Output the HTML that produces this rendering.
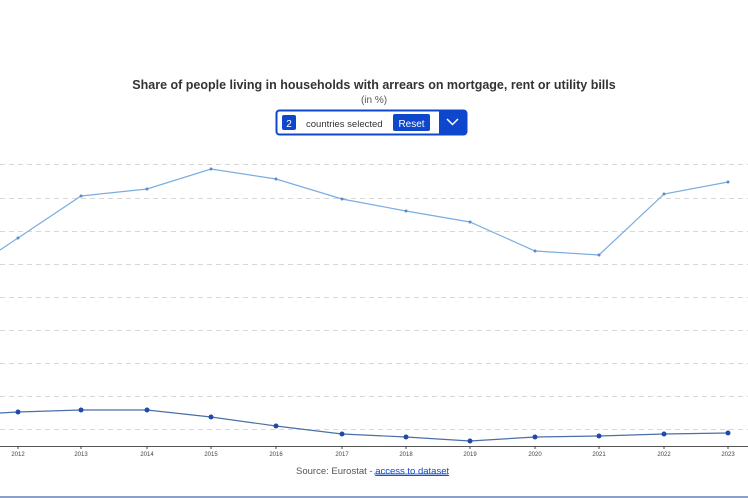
<!DOCTYPE html>
<html><head><meta charset="utf-8"><style>
body{margin:0;width:748px;height:498px;background:#fff;overflow:hidden;font-family:"Liberation Sans",Arial,sans-serif;position:relative}
</style></head><body>
<svg width="748" height="498" style="position:absolute;left:0;top:0">
<text x="374" y="89" text-anchor="middle" font-size="12.5" font-weight="bold" fill="#333">Share of people living in households with arrears on mortgage, rent or utility bills</text>
<text x="374" y="103" text-anchor="middle" font-size="10" fill="#555">(in %)</text>
<rect x="276.5" y="110.5" width="190" height="24" rx="3" fill="#fff" stroke="#0e47cb" stroke-width="2"/>
<rect x="282" y="115" width="14" height="15" rx="2" fill="#0e47cb"/>
<text x="289" y="127" text-anchor="middle" font-size="10" fill="#fff">2</text>
<text x="306" y="127" font-size="9.5" fill="#333">countries selected</text>
<rect x="393" y="114" width="37" height="17" rx="2" fill="#0e47cb"/>
<text x="411.5" y="127" text-anchor="middle" font-size="10" fill="#fff">Reset</text>
<rect x="439" y="111" width="27" height="23" fill="#0e47cb"/>
<polyline points="447,119 452.5,124.5 458,119" fill="none" stroke="#fff" stroke-width="1.5"/>
<g stroke="#d8d8d8" stroke-dasharray="5,4" stroke-width="1">
<line x1="0" y1="164.5" x2="748" y2="164.5"/><line x1="0" y1="198.5" x2="748" y2="198.5"/>
<line x1="0" y1="231.5" x2="748" y2="231.5"/><line x1="0" y1="264.5" x2="748" y2="264.5"/>
<line x1="0" y1="297.5" x2="748" y2="297.5"/><line x1="0" y1="330.5" x2="748" y2="330.5"/>
<line x1="0" y1="363.5" x2="748" y2="363.5"/><line x1="0" y1="396.5" x2="748" y2="396.5"/>
<line x1="0" y1="429.5" x2="748" y2="429.5"/>
</g>
<line x1="0" y1="446.5" x2="748" y2="446.5" stroke="#555" stroke-width="1"/>
<g font-size="6" fill="#444" text-anchor="middle">
<text x="18" y="456">2012</text><text x="81" y="456">2013</text><text x="147" y="456">2014</text><text x="211" y="456">2015</text><text x="276" y="456">2016</text><text x="342" y="456">2017</text><text x="406" y="456">2018</text><text x="470" y="456">2019</text><text x="535" y="456">2020</text><text x="599" y="456">2021</text><text x="664" y="456">2022</text><text x="728" y="456">2023</text>
</g>
<g stroke="#444" stroke-width="1"><line x1="18" y1="446" x2="18" y2="449"/><line x1="81" y1="446" x2="81" y2="449"/><line x1="147" y1="446" x2="147" y2="449"/><line x1="211" y1="446" x2="211" y2="449"/><line x1="276" y1="446" x2="276" y2="449"/><line x1="342" y1="446" x2="342" y2="449"/><line x1="406" y1="446" x2="406" y2="449"/><line x1="470" y1="446" x2="470" y2="449"/><line x1="535" y1="446" x2="535" y2="449"/><line x1="599" y1="446" x2="599" y2="449"/><line x1="664" y1="446" x2="664" y2="449"/><line x1="728" y1="446" x2="728" y2="449"/></g>
<polyline fill="none" stroke="#7aaee0" stroke-width="1.2" points="0,250 18,238 81,196 147,189 211,169 276,179 342,199 406,211 470,222 535,251 599,255 664,194 728,182"/>
<g fill="#5a8ccc"><circle cx="18" cy="238" r="1.5"/><circle cx="81" cy="196" r="1.5"/><circle cx="147" cy="189" r="1.5"/><circle cx="211" cy="169" r="1.5"/><circle cx="276" cy="179" r="1.5"/><circle cx="342" cy="199" r="1.5"/><circle cx="406" cy="211" r="1.5"/><circle cx="470" cy="222" r="1.5"/><circle cx="535" cy="251" r="1.5"/><circle cx="599" cy="255" r="1.5"/><circle cx="664" cy="194" r="1.5"/><circle cx="728" cy="182" r="1.5"/></g>
<polyline fill="none" stroke="#4a6fa8" stroke-width="1.2" points="0,413 18,412 81,410 147,410 211,417 276,426 342,434 406,437 470,441 535,437 599,436 664,434 728,433"/>
<g fill="#1f4aa8"><circle cx="18" cy="412" r="2.5"/><circle cx="81" cy="410" r="2.5"/><circle cx="147" cy="410" r="2.5"/><circle cx="211" cy="417" r="2.5"/><circle cx="276" cy="426" r="2.5"/><circle cx="342" cy="434" r="2.5"/><circle cx="406" cy="437" r="2.5"/><circle cx="470" cy="441" r="2.5"/><circle cx="535" cy="437" r="2.5"/><circle cx="599" cy="436" r="2.5"/><circle cx="664" cy="434" r="2.5"/><circle cx="728" cy="433" r="2.5"/></g>
<text x="296" y="474" font-size="9.5" fill="#555">Source: Eurostat - <tspan fill="#0e47cb" text-decoration="underline">access to dataset</tspan></text>
<line x1="374" y1="474" x2="448" y2="474" stroke="#0e47cb" stroke-width="0.8"/>
<rect x="0" y="496" width="748" height="2" fill="#8aa0c8"/>
</svg>
</body></html>
